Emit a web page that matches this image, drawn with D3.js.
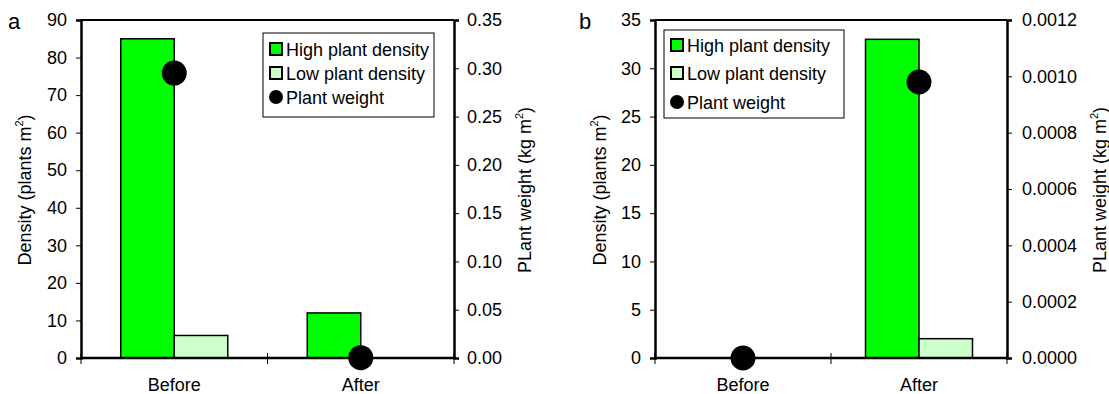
<!DOCTYPE html>
<html>
<head>
<meta charset="utf-8">
<script src="https://cdn.jsdelivr.net/npm/d3@7"></script>
<style>
  body { margin: 0; background: #fff; }
  text { font-family: "Liberation Sans", Arial, sans-serif; fill: #000; }
</style>
</head>
<body>
<svg id="chart" width="1109" height="394"></svg>
<script>
// data
const periods = ['Before', 'After'];
const seriesNames = ['High plant density', 'Low plant density', 'Plant weight'];

const highA = [85, 12];
const lowA = [6, 0];
const weightA = [0.295, 0.0003];
const densTicksA = [0, 10, 20, 30, 40, 50, 60, 70, 80, 90];
const weightTicksA = [0, 0.05, 0.10, 0.15, 0.20, 0.25, 0.30, 0.35];

const highB = [0, 33];
const lowB = [0, 2];
const weightB = [0, 0.00098];
const densTicksB = [0, 5, 10, 15, 20, 25, 30, 35];
const weightTicksB = [0, 0.0002, 0.0004, 0.0006, 0.0008, 0.0010, 0.0012];

const highColor = '#00ff00';
const lowColor = '#ccffcc';
const fontSize = '18px';

const svg = d3.select('#chart');

let panel = function(opts) {
  let g = svg.append('g');
  let left = opts.left, right = opts.right, top = 20, bottom = 358;

  let x = d3.scaleBand().domain(periods).range([left, right]);
  let bw = 53.5;

  let y = d3.scaleLinear().domain([0, d3.max(opts.densTicks)]).range([bottom, top]);
  let y2 = d3.scaleLinear().domain([0, d3.max(opts.weightTicks)]).range([bottom, top]);

  // bars
  periods.forEach(function(p, i) {
    let cx = x(p) + x.bandwidth() / 2;
    [[opts.high[i], highColor, cx - bw], [opts.low[i], lowColor, cx]].forEach(function(b) {
      if (b[0] <= 0) return;
      g.append('rect')
        .attr('x', b[2])
        .attr('y', y(b[0]))
        .attr('width', bw)
        .attr('height', bottom - y(b[0]))
        .attr('fill', b[1])
        .attr('stroke', '#000')
        .attr('stroke-width', 1.5);
    });
  });

  // frame: top line
  g.append('line')
    .attr('x1', left).attr('x2', right)
    .attr('y1', top).attr('y2', top)
    .attr('stroke', '#000').attr('stroke-width', 2);

  // left axis
  let la = g.append('g')
    .attr('transform', 'translate(' + left + ',0)')
    .call(d3.axisLeft(y).tickValues(opts.densTicks).tickSize(5).tickPadding(9).tickFormat(d3.format('d')));
  // right axis
  let ra = g.append('g')
    .attr('transform', 'translate(' + right + ',0)')
    .call(d3.axisRight(y2).tickValues(opts.weightTicks).tickSize(5).tickPadding(opts.rPad).tickFormat(d3.format(opts.wfmt)));
  // bottom axis
  let ba = g.append('g')
    .attr('transform', 'translate(0,' + bottom + ')')
    .call(d3.axisBottom(x).tickSize(0).tickPadding(20));
  [left, x('After'), right].forEach(function(tx) {
    ba.append('line').attr('x1', tx).attr('x2', tx).attr('y1', -5).attr('y2', 6)
      .attr('stroke', '#000').attr('stroke-width', 1);
  });

  [la, ra, ba].forEach(function(a) {
    a.select('.domain').attr('stroke-width', 2.5);
    a.selectAll('.tick line').attr('stroke-width', 1);
    a.selectAll('.tick text').style('font-size', fontSize)
      .style('font-family', '"Liberation Sans", Arial, sans-serif');
  });
  ba.select('.domain').attr('d', 'M' + left + ',0H' + right);

  // weight points
  periods.forEach(function(p, i) {
    g.append('circle')
      .attr('cx', x(p) + x.bandwidth() / 2)
      .attr('cy', y2(opts.weight[i]))
      .attr('r', 12.5)
      .attr('fill', '#000');
  });

  // axis titles
  let t1 = g.append('text')
    .attr('transform', 'translate(' + opts.titleL + ',190) rotate(-90)')
    .attr('text-anchor', 'middle')
    .style('font-size', fontSize);
  t1.append('tspan').text('Density (plants m');
  t1.append('tspan').attr('dy', -8).style('font-size', '11px').text('2');
  t1.append('tspan').attr('dy', 8).text(')');

  let t2 = g.append('text')
    .attr('transform', 'translate(' + opts.titleR + ',190) rotate(-90)')
    .attr('text-anchor', 'middle')
    .style('font-size', fontSize);
  t2.append('tspan').text('PLant weight (kg m');
  t2.append('tspan').attr('dy', -8).style('font-size', '11px').text('2');
  t2.append('tspan').attr('dy', 8).text(')');

  // panel letter
  g.append('text')
    .attr('x', opts.letterX).attr('y', 29)
    .style('font-size', '22px')
    .text(opts.letter);

  // legend
  let lg = g.append('g').attr('transform', 'translate(' + opts.legX + ',' + opts.legY + ')');
  lg.append('rect')
    .attr('width', opts.legW).attr('height', opts.legH)
    .attr('fill', '#fff').attr('stroke', '#000').attr('stroke-width', 1);
  seriesNames.forEach(function(name, i) {
    let cy = opts.legRows[i];
    if (i < 2) {
      lg.append('rect')
        .attr('x', 7).attr('y', cy - 6).attr('width', 12).attr('height', 12)
        .attr('fill', i === 0 ? highColor : lowColor)
        .attr('stroke', '#000').attr('stroke-width', 2);
    } else {
      lg.append('circle').attr('cx', 13).attr('cy', cy).attr('r', 7).attr('fill', '#000');
    }
    lg.append('text')
      .attr('x', 23).attr('y', cy + 6.5)
      .style('font-size', fontSize)
      .text(name);
  });
};

panel({
  left: 81, right: 454, high: highA, low: lowA, weight: weightA,
  densTicks: densTicksA, weightTicks: weightTicksA, wfmt: '.2f', rPad: 8,
  titleL: 31, titleR: 531, letter: 'a', letterX: 8,
  legX: 263, legY: 33, legW: 171, legH: 84, legRows: [16, 40, 64]
});

panel({
  left: 655, right: 1007, high: highB, low: lowB, weight: weightB,
  densTicks: densTicksB, weightTicks: weightTicksB, wfmt: '.4f', rPad: 10,
  titleL: 606, titleR: 1106, letter: 'b', letterX: 579,
  legX: 664, legY: 30, legW: 180, legH: 88, legRows: [15, 43, 72]
});
</script>
</body>
</html>
